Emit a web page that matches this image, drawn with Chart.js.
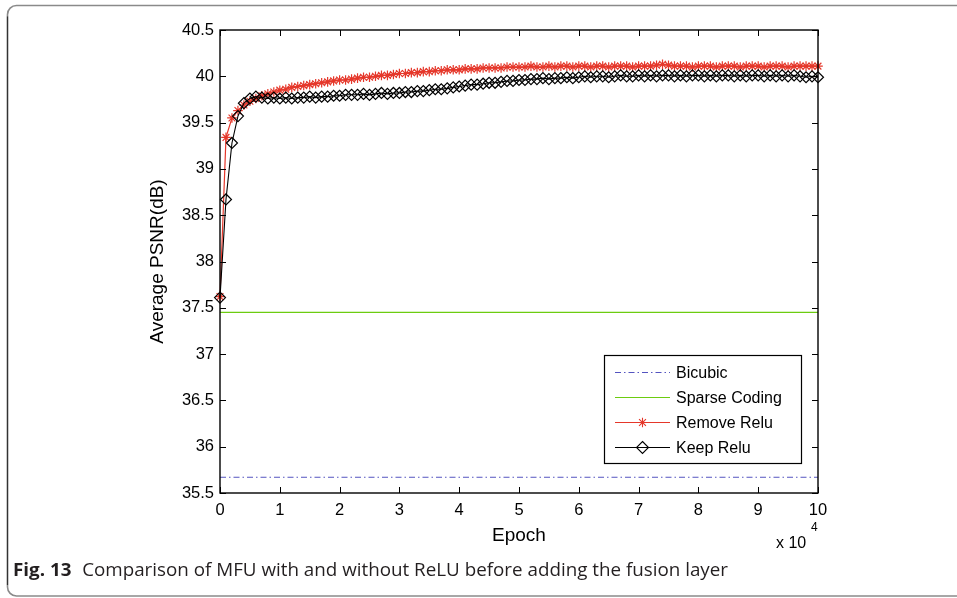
<!DOCTYPE html>
<html>
<head>
<meta charset="utf-8">
<title>Average PSNR vs Epoch</title>
<script src="https://cdn.jsdelivr.net/npm/chart.js@4.4.1/dist/chart.umd.min.js"></script>
<style>
  html, body { margin: 0; padding: 0; background: #fff; overflow: hidden; }
  canvas { display: block; }
</style>
</head>
<body>
<canvas id="psnr" width="957" height="598"></canvas>
<script>
// Training epoch, in thousands (one sample every 1000 epochs)
const epochK = [
  0, 1, 2, 3, 4, 5, 6, 7, 8, 9,
  10, 11, 12, 13, 14, 15, 16, 17, 18, 19,
  20, 21, 22, 23, 24, 25, 26, 27, 28, 29,
  30, 31, 32, 33, 34, 35, 36, 37, 38, 39,
  40, 41, 42, 43, 44, 45, 46, 47, 48, 49,
  50, 51, 52, 53, 54, 55, 56, 57, 58, 59,
  60, 61, 62, 63, 64, 65, 66, 67, 68, 69,
  70, 71, 72, 73, 74, 75, 76, 77, 78, 79,
  80, 81, 82, 83, 84, 85, 86, 87, 88, 89,
  90, 91, 92, 93, 94, 95, 96, 97, 98, 99,
  100
];

// Average PSNR (dB) without ReLU
const removeRelu = [
  37.62, 39.34, 39.55, 39.63, 39.69, 39.73, 39.76, 39.79, 39.81, 39.83,
  39.85, 39.86, 39.88, 39.89, 39.90, 39.91, 39.92, 39.93, 39.94, 39.95,
  39.96, 39.96, 39.97, 39.98, 39.99, 39.99, 40.00, 40.01, 40.01, 40.02,
  40.03, 40.03, 40.04, 40.04, 40.05, 40.05, 40.06, 40.06, 40.07, 40.07,
  40.07, 40.08, 40.08, 40.08, 40.09, 40.09, 40.09, 40.09, 40.10, 40.10,
  40.10, 40.10, 40.11, 40.10, 40.10, 40.11, 40.10, 40.11, 40.11, 40.10,
  40.11, 40.11, 40.10, 40.11, 40.11, 40.10, 40.11, 40.11, 40.11, 40.10,
  40.11, 40.11, 40.11, 40.12, 40.13, 40.12, 40.11, 40.11, 40.11, 40.10,
  40.11, 40.11, 40.11, 40.10, 40.11, 40.11, 40.11, 40.10, 40.11, 40.11,
  40.11, 40.10, 40.11, 40.11, 40.11, 40.10, 40.11, 40.11, 40.11, 40.11,
  40.11
];

// Average PSNR (dB) with ReLU kept
const keepRelu = [
  37.61, 38.67, 39.28, 39.57, 39.71, 39.76, 39.78, 39.77, 39.76, 39.77,
  39.76, 39.77, 39.76, 39.77, 39.77, 39.78, 39.77, 39.78, 39.78, 39.79,
  39.79, 39.80, 39.80, 39.80, 39.81, 39.80, 39.81, 39.82, 39.81, 39.82,
  39.82, 39.83, 39.83, 39.84, 39.84, 39.85, 39.86, 39.86, 39.87, 39.88,
  39.89, 39.90, 39.91, 39.91, 39.92, 39.93, 39.93, 39.94, 39.95, 39.95,
  39.96, 39.96, 39.97, 39.97, 39.98, 39.97, 39.98, 39.98, 39.99, 39.98,
  39.99, 40.00, 39.99, 40.00, 40.00, 39.99, 40.00, 40.01, 40.00, 40.00,
  40.01, 40.00, 40.01, 40.00, 40.01, 40.01, 40.00, 40.01, 40.00, 40.01,
  40.01, 40.00, 40.01, 40.00, 40.01, 40.01, 40.00, 40.01, 40.00, 40.01,
  40.01, 40.00, 40.01, 40.00, 40.01, 40.00, 40.01, 40.00, 39.99, 40.00,
  39.99
];

// Reference levels
const bicubicSpan = [0, 100];
const bicubicPsnr = [35.67, 35.67];
const sparseSpan = [0, 100];
const sparsePsnr = [37.45, 37.45];

// Axis ticks
const xTickValues = [0, 10, 20, 30, 40, 50, 60, 70, 80, 90, 100];
const xTickLabels = ['0', '1', '2', '3', '4', '5', '6', '7', '8', '9', '10'];
const yTickValues = [35.5, 36, 36.5, 37, 37.5, 38, 38.5, 39, 39.5, 40, 40.5];
const yTickLabels = ['35.5', '36', '36.5', '37', '37.5', '38', '38.5', '39', '39.5', '40', '40.5'];

const seriesNames = ['Bicubic', 'Sparse Coding', 'Remove Relu', 'Keep Relu'];

const FONT = '"Liberation Sans", Arial, sans-serif';
const CAPTION_FONT = '"Open Sans", "Noto Sans", sans-serif';
const RED = '#e5372a';
const BLUE = '#5454c0';
const GREEN = '#6ccc10';

function pts(xs, ys) { return xs.map((x, i) => ({ x: x, y: ys[i] })); }

function drawStar(ctx, x, y, r) {
  ctx.beginPath();
  ctx.moveTo(x - r, y); ctx.lineTo(x + r, y);
  ctx.moveTo(x, y - r); ctx.lineTo(x, y + r);
  const d = r * 0.72;
  ctx.moveTo(x - d, y - d); ctx.lineTo(x + d, y + d);
  ctx.moveTo(x - d, y + d); ctx.lineTo(x + d, y - d);
  ctx.stroke();
}
function drawDiamond(ctx, x, y, r) {
  ctx.beginPath();
  ctx.moveTo(x, y - r); ctx.lineTo(x + r, y); ctx.lineTo(x, y + r); ctx.lineTo(x - r, y);
  ctx.closePath();
  ctx.stroke();
}

// Page frame, plot box, inward ticks, legend, axis titles and caption
const decorations = {
  id: 'decorations',
  beforeDraw(chart) {
    const ctx = chart.ctx;
    ctx.save();
    ctx.fillStyle = '#fff';
    ctx.fillRect(0, 0, chart.width, chart.height);
    // rounded frame around the figure
    const fx = 7.5, fy = 5.5, fr = 9;
    ctx.strokeStyle = '#8a8a8a';
    ctx.lineWidth = 1.6;
    ctx.beginPath();
    ctx.moveTo(chart.width + 5, fy);
    ctx.lineTo(fx + fr, fy);
    ctx.arcTo(fx, fy, fx, fy + fr, fr);
    ctx.lineTo(fx, chart.height - 2 - fr);
    ctx.arcTo(fx, chart.height - 2, fx + fr, chart.height - 2, fr);
    ctx.lineTo(chart.width + 5, chart.height - 2);
    ctx.stroke();
    ctx.strokeStyle = '#333';
    ctx.lineWidth = 1.2;
    ctx.beginPath();
    ctx.moveTo(fx, fy + fr + 2);
    ctx.lineTo(fx, chart.height - 2 - fr - 2);
    ctx.stroke();
    ctx.restore();
  },
  afterDraw(chart) {
    const ctx = chart.ctx;
    const a = chart.chartArea;
    const xs = chart.scales.x, ys = chart.scales.y;
    ctx.save();

    // plot box
    ctx.strokeStyle = '#000';
    ctx.lineWidth = 1.4;
    ctx.strokeRect(a.left, a.top, a.right - a.left, a.bottom - a.top);

    // ticks pointing into the plot on all four sides
    const tl = 6;
    ctx.lineWidth = 1;
    ctx.beginPath();
    xs.ticks.forEach(t => {
      const px = Math.round(xs.getPixelForValue(t.value)) + 0.5;
      ctx.moveTo(px, a.bottom); ctx.lineTo(px, a.bottom - tl);
      ctx.moveTo(px, a.top); ctx.lineTo(px, a.top + tl);
    });
    ys.ticks.forEach(t => {
      const py = Math.round(ys.getPixelForValue(t.value)) + 0.5;
      ctx.moveTo(a.left, py); ctx.lineTo(a.left + tl, py);
      ctx.moveTo(a.right, py); ctx.lineTo(a.right - tl, py);
    });
    ctx.stroke();

    // axis titles
    ctx.fillStyle = '#000';
    ctx.font = '19px ' + FONT;
    ctx.textAlign = 'center';
    ctx.textBaseline = 'alphabetic';
    ctx.fillText('Epoch', (a.left + a.right) / 2, a.bottom + 48);
    ctx.save();
    ctx.translate(a.left - 62, (a.top + a.bottom) / 2);
    ctx.rotate(-Math.PI / 2);
    ctx.textBaseline = 'middle';
    ctx.fillText('Average PSNR(dB)', 0, 0);
    ctx.restore();

    // exponent of the x axis
    ctx.textAlign = 'left';
    ctx.font = '16px ' + FONT;
    ctx.fillText('x 10', a.right - 42, a.bottom + 55);
    ctx.font = '12px ' + FONT;
    ctx.fillText('4', a.right - 7, a.bottom + 38);

    // legend
    const lw = 197, lh = 108;
    const lx = a.right - 17 - lw, ly = a.bottom - 30 - lh;
    ctx.fillStyle = '#fff';
    ctx.fillRect(lx, ly, lw, lh);
    ctx.strokeStyle = '#000';
    ctx.lineWidth = 1.2;
    ctx.strokeRect(lx + 0.5, ly + 0.5, lw, lh);
    const dsets = chart.data.datasets;
    ctx.font = '16px ' + FONT;
    ctx.textBaseline = 'middle';
    for (let i = 0; i < seriesNames.length; i++) {
      const ds = dsets[i];
      const ry = Math.round(ly + 17 + i * 25) + 0.5;
      const x0 = lx + 11, x1 = lx + 66, xm = (x0 + x1) / 2;
      ctx.strokeStyle = ds.borderColor;
      ctx.lineWidth = 1.2;
      ctx.setLineDash(ds.borderDash || []);
      ctx.beginPath(); ctx.moveTo(x0, ry); ctx.lineTo(x1, ry); ctx.stroke();
      ctx.setLineDash([]);
      ctx.lineWidth = 1.1;
      if (ds.pointStyle === 'star') drawStar(ctx, xm, ry, ds.pointRadius);
      if (ds.pointStyle === 'rectRot') drawDiamond(ctx, xm, ry, ds.pointRadius + 0.5);
      ctx.fillStyle = '#000';
      ctx.fillText(seriesNames[i], x1 + 6, ry + 1);
    }

    // figure caption
    ctx.textBaseline = 'alphabetic';
    ctx.fillStyle = '#231f20';
    const capY = 576;
    const boldPart = 'Fig. 13';
    const restPart = 'Comparison of MFU with and without ReLU before adding the fusion layer';
    ctx.font = 'bold 17.5px ' + CAPTION_FONT;
    const bw = ctx.measureText(boldPart).width;
    ctx.font = '17.5px ' + CAPTION_FONT;
    const rw = ctx.measureText(restPart).width;
    const gap = 10;
    const target = 728 - 13;
    const sx = target / (bw + gap + rw);
    ctx.save();
    ctx.translate(13, capY);
    ctx.scale(sx, 1);
    ctx.font = 'bold 17.5px ' + CAPTION_FONT;
    ctx.fillText(boldPart, 0, 0);
    ctx.font = '17.5px ' + CAPTION_FONT;
    ctx.fillText(restPart, bw + gap, 0);
    ctx.restore();

    ctx.restore();
  }
};

new Chart(document.getElementById('psnr'), {
  type: 'line',
  data: {
    datasets: [
      {
        label: seriesNames[0], data: pts(bicubicSpan, bicubicPsnr),
        borderColor: BLUE, borderWidth: 1, borderDash: [6, 3, 1.5, 3],
        pointRadius: 0, order: 3
      },
      {
        label: seriesNames[1], data: pts(sparseSpan, sparsePsnr),
        borderColor: GREEN, borderWidth: 1.3,
        pointRadius: 0, order: 2
      },
      {
        label: seriesNames[2], data: pts(epochK, removeRelu),
        borderColor: RED, borderWidth: 1.2,
        pointStyle: 'star', pointRadius: 4.8, pointBorderWidth: 1.2,
        pointBorderColor: RED, pointBackgroundColor: 'rgba(0,0,0,0)',
        clip: false, order: 1
      },
      {
        label: seriesNames[3], data: pts(epochK, keepRelu),
        borderColor: '#000', borderWidth: 1.1,
        pointStyle: 'rectRot', pointRadius: 5.5, pointBorderWidth: 1.2,
        pointBorderColor: '#000', pointBackgroundColor: 'rgba(0,0,0,0)',
        clip: false, order: 0
      }
    ]
  },
  options: {
    responsive: false,
    animation: false,
    devicePixelRatio: 1,
    events: [],
    layout: { padding: { top: 30, right: 139, bottom: 0, left: 0 } },
    plugins: { legend: { display: false }, tooltip: { enabled: false } },
    elements: { line: { tension: 0 } },
    scales: {
      x: {
        type: 'linear', min: 0, max: 100,
        afterFit(s) { s.height = 105; },
        afterBuildTicks(s) { s.ticks = xTickValues.map(v => ({ value: v })); },
        ticks: {
          autoSkip: false, maxRotation: 0, padding: 8,
          color: '#000', font: { family: FONT, size: 16.5 },
          callback: (v, i) => xTickLabels[i]
        },
        grid: { display: false, drawTicks: false },
        border: { display: false }
      },
      y: {
        type: 'linear', min: 35.5, max: 40.5,
        afterFit(s) { s.width = 220; },
        afterBuildTicks(s) { s.ticks = yTickValues.map(v => ({ value: v })); },
        ticks: {
          autoSkip: false, padding: 6,
          color: '#000', font: { family: FONT, size: 16.5 },
          callback: (v, i) => yTickLabels[i]
        },
        grid: { display: false, drawTicks: false },
        border: { display: false }
      }
    }
  },
  plugins: [decorations]
});
</script>
</body>
</html>
